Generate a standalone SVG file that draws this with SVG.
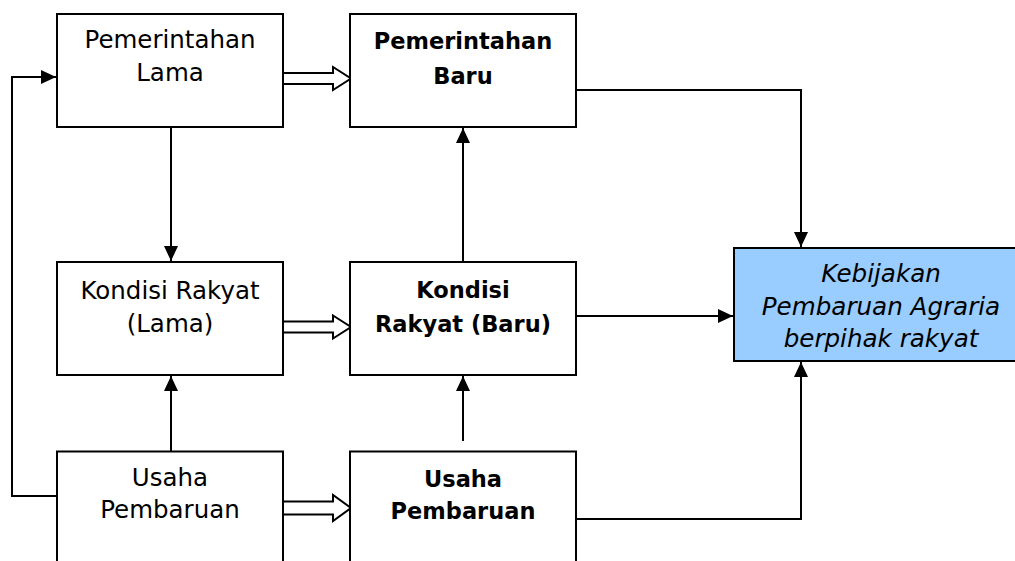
<svg xmlns="http://www.w3.org/2000/svg" width="1015" height="561" viewBox="0 0 1015 561">
<style>
.box{fill:#fff;stroke:#000;stroke-width:2}
.goal{fill:#99ccff;stroke:#000;stroke-width:2}
.t{font-family:"DejaVu Sans",Verdana,sans-serif;font-size:24.5px;fill:#000;text-anchor:middle}
.b{font-weight:bold;font-size:22.5px}
.i{font-style:italic;font-size:24.6px}
.c{fill:none;stroke:#000;stroke-width:2}
.h{fill:#fff;stroke:#000;stroke-width:2;stroke-linejoin:miter}
</style>
<defs>
<marker id="ah" markerUnits="userSpaceOnUse" markerWidth="16" markerHeight="16" viewBox="0 0 16 16" refX="15" refY="8" orient="auto">
<path d="M0,1 L15,8 L0,15 Z" fill="#000"/>
</marker>
</defs>
<g id="connectors">
<path class="c" d="M57,496 H12 V77 H56" marker-end="url(#ah)"/>
<path class="c" d="M171,127 V261" marker-end="url(#ah)"/>
<path class="c" d="M171,451 V376" marker-end="url(#ah)"/>
<path class="c" d="M463,262 V128" marker-end="url(#ah)"/>
<path class="c" d="M463,441 V376" marker-end="url(#ah)"/>
<path class="c" d="M576,90 H801 V247" marker-end="url(#ah)"/>
<path class="c" d="M576,316 H733" marker-end="url(#ah)"/>
<path class="c" d="M576,519 H801 V362" marker-end="url(#ah)"/>
<polygon class="h" points="283,73 333,73 333,67 351,78.5 333,90 333,84 283,84"/>
<polygon class="h" points="283,321.5 333,321.5 333,315.5 351,327 333,338.5 333,332.5 283,332.5"/>
<polygon class="h" points="283,501.5 333,501.5 333,495 351,508 333,521 333,514.5 283,514.5"/>
</g>
<g id="n1">
<rect class="box" x="57" y="14" width="226" height="113"/>
<text class="t" x="170" y="48">Pemerintahan</text>
<text class="t" x="170" y="81">Lama</text>
</g>
<g id="n2">
<rect class="box" x="350" y="14" width="226" height="113"/>
<text class="t b" x="463" y="49">Pemerintahan</text>
<text class="t b" x="463" y="84">Baru</text>
</g>
<g id="n3">
<rect class="box" x="57" y="262" width="226" height="113"/>
<text class="t" x="170" y="299">Kondisi Rakyat</text>
<text class="t" x="170" y="332">(Lama)</text>
</g>
<g id="n4">
<rect class="box" x="350" y="262" width="226" height="113"/>
<text class="t b" x="463" y="298">Kondisi</text>
<text class="t b" x="463" y="332">Rakyat (Baru)</text>
</g>
<g id="n5">
<rect class="box" x="57" y="451.5" width="226" height="120"/>
<text class="t" x="170" y="486">Usaha</text>
<text class="t" x="170" y="518">Pembaruan</text>
</g>
<g id="n6">
<rect class="box" x="350" y="451.5" width="226" height="120"/>
<text class="t b" x="463" y="487">Usaha</text>
<text class="t b" x="463" y="519">Pembaruan</text>
</g>
<g id="n7">
<rect class="goal" x="734" y="248" width="300" height="113"/>
<text class="t i" x="881" y="282">Kebijakan</text>
<text class="t i" x="881" y="315">Pembaruan Agraria</text>
<text class="t i" x="881" y="347">berpihak rakyat</text>
</g>
</svg>
